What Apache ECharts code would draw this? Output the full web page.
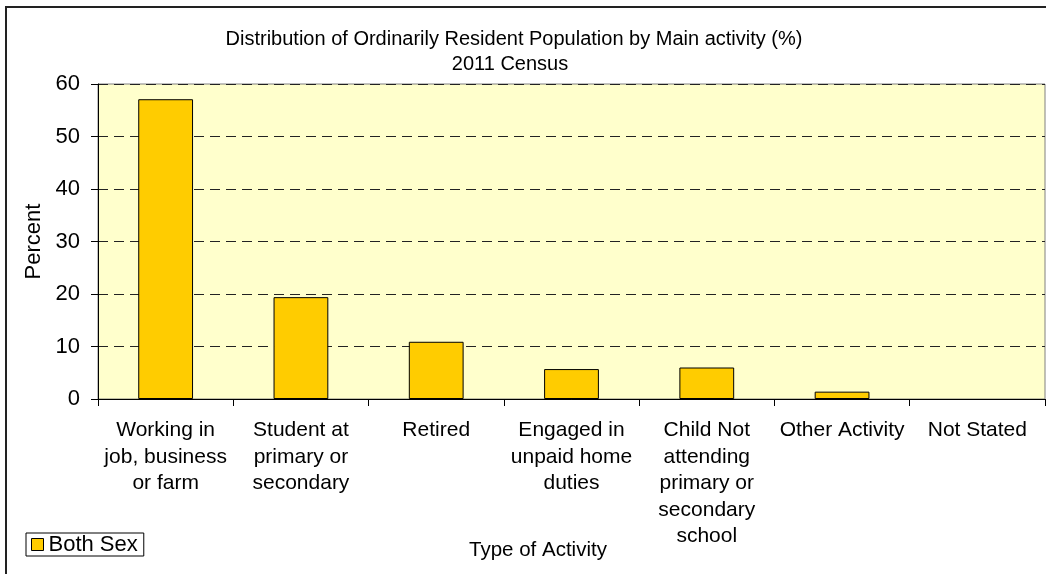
<!DOCTYPE html>
<html>
<head>
<meta charset="utf-8">
<script src="https://cdn.jsdelivr.net/npm/echarts@6/dist/echarts.min.js"></script>
<style>
html,body{margin:0;padding:0;background:#fff;}
#c{width:1046px;height:574px;}
</style>
</head>
<body>
<div id="c"></div>
<script>
var categories = [
  "Working in\njob, business\nor farm",
  "Student at\nprimary or\nsecondary",
  "Retired",
  "Engaged in\nunpaid home\nduties",
  "Child Not\nattending\nprimary or\nsecondary\nschool",
  "Other Activity",
  "Not Stated"
];
var bothSex = [57.1, 19.4, 10.9, 5.7, 6.0, 1.4, 0];
var yTicks = [0, 10, 20, 30, 40, 50, 60];
var titleLines = ["Distribution of Ordinarily Resident Population by Main activity (%)", "2011 Census"];
var seriesName = "Both Sex";
var xName = "Type of Activity";
var yName = "Percent";

var FONT = "'Liberation Sans', Arial, sans-serif";

var chart = echarts.init(document.getElementById('c'));
chart.setOption({
  animation: false,
  backgroundColor: '#fff',
  grid: {
    left: 98, right: 1, top: 84, bottom: 175,
    show: true, backgroundColor: '#FFFFCC', borderColor: '#808080', borderWidth: 1
  },
  legend: {
    data: [seriesName],
    left: 26, top: 533,
    orient: 'horizontal',
    itemWidth: 12, itemHeight: 12, itemGap: 4,
    padding: [0, 6, 0, 5],
    borderColor: '#000', borderWidth: 1,
    backgroundColor: '#fff',
    icon: 'rect',
    itemStyle: { color: '#FFCC00', borderColor: '#000', borderWidth: 1 },
    textStyle: { fontFamily: FONT, fontSize: 22, color: '#000', lineHeight: 23 }
  },
  xAxis: {
    type: 'category',
    data: categories,
    axisLine: { lineStyle: { color: '#000', width: 1 } },
    axisTick: { show: true, length: 7, lineStyle: { color: '#000' } },
    axisLabel: {
      interval: 0, margin: 18, color: '#000',
      fontFamily: FONT, fontSize: 21, lineHeight: 26.5, align: 'center'
    },
    splitLine: { show: false }
  },
  yAxis: {
    type: 'value', min: yTicks[0], max: yTicks[yTicks.length - 1], interval: 10,
    name: yName, nameLocation: 'middle', nameRotate: 90, nameGap: 52,
    nameTextStyle: { fontFamily: FONT, fontSize: 22, color: '#000' },
    axisLine: { show: true, lineStyle: { color: '#000', width: 1 } },
    axisTick: { show: true, length: 7, lineStyle: { color: '#000' } },
    axisLabel: { margin: 18, color: '#000', fontFamily: FONT, fontSize: 22 },
    splitLine: { show: true, lineStyle: { color: '#222', type: [10, 6], width: 1 } }
  },
  series: [{
    name: seriesName,
    type: 'bar',
    data: bothSex.map(function (v) {
      return v === 0 ? { value: v, itemStyle: { borderWidth: 0 } } : v;
    }),
    barWidth: '40.5%',
    itemStyle: { color: '#FFCC00', borderColor: '#000', borderWidth: 1 }
  }],
  graphic: [
    { type: 'rect', shape: { x: 6, y: 7, width: 1100, height: 620 },
      style: { fill: 'none', stroke: '#222', lineWidth: 2 }, z: 100 },
    { type: 'text', style: { x: 514, y: 39, text: titleLines[0], align: 'center', verticalAlign: 'middle',
      font: '20px ' + FONT, fill: '#000' } },
    { type: 'text', style: { x: 510, y: 64, text: titleLines[1], align: 'center', verticalAlign: 'middle',
      font: '20px ' + FONT, fill: '#000' } },
    { type: 'text', style: { x: 538, y: 550, text: xName, align: 'center', verticalAlign: 'middle',
      font: '20.5px ' + FONT, fill: '#000' } }
  ]
});
</script>
</body>
</html>
